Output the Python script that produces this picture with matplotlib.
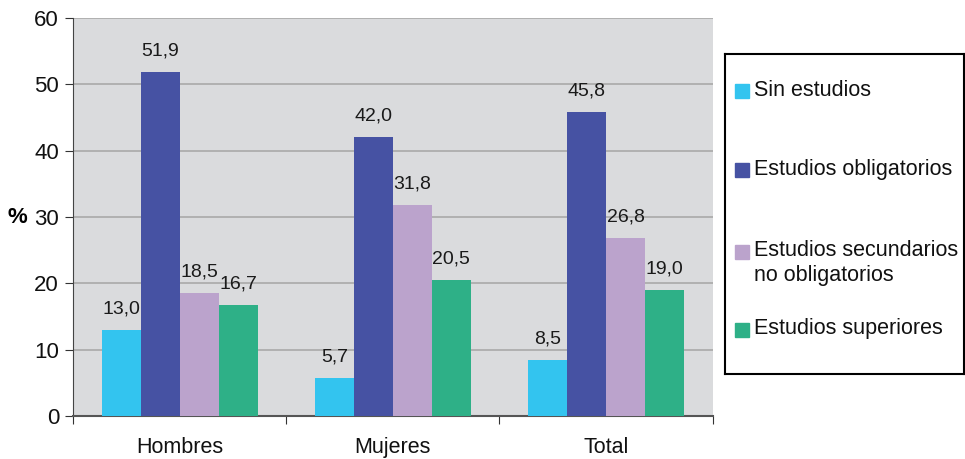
import matplotlib.pyplot as plt
import matplotlib.patches as mpatches
import numpy as np

plt.rcParams['font.family'] = ['Liberation Sans', 'DejaVu Sans']

groups = ["Hombres", "Mujeres", "Total"]
series = ["Sin estudios", "Estudios obligatorios",
          "Estudios secundarios\nno obligatorios", "Estudios superiores"]
sin_estudios = [13.0, 5.7, 8.5]
obligatorios = [51.9, 42.0, 45.8]
secundarios = [18.5, 31.8, 26.8]
superiores = [16.7, 20.5, 19.0]
colors = ["#33c4ef", "#4652a3", "#bba3cc", "#2eb087"]

values = [sin_estudios, obligatorios, secundarios, superiores]

fig = plt.figure(figsize=(9.65, 4.59), dpi=100)
ax = fig.add_axes([0.0756, 0.0937, 0.663, 0.867])
ax.set_facecolor("#dadbdd")

x = np.arange(len(groups))
w = 0.183
for i, vals in enumerate(values):
    pos = x + (i - 1.5) * w
    ax.bar(pos, vals, w, color=colors[i], zorder=3)
    for p, v in zip(pos, vals):
        ax.text(p, v + 2.5, f"{v:.1f}".replace(".", ","), ha="center", va="baseline",
                fontsize=14, color="#1a1a1a")

ax.set_xlim(-0.5, 2.5)
ax.set_ylim(0, 60)
ax.set_yticks(range(0, 61, 10))
ax.yaxis.grid(True, color="#a9a9a9", linewidth=1.2, zorder=0)
ax.set_xticks([-0.5, 0.5, 1.5, 2.5])
ax.set_xticklabels([])
ax.set_xticks(x, minor=True)
ax.set_xticklabels(groups, minor=True, fontsize=15.5, color="#111111")
ax.tick_params(axis="x", which="minor", length=0, pad=15)
ax.tick_params(axis="x", which="major", length=6, color="#333333", direction="out")
ax.tick_params(axis="y", labelsize=16, length=6, color="#333333", pad=4, labelcolor="#111111")
for s in ["top", "right"]:
    ax.spines[s].set_visible(False)
ax.spines["left"].set_color("#444444")
ax.spines["bottom"].set_color("#555555")
ax.spines["bottom"].set_linewidth(1.5)

fig.text(0.008, 0.527, "%", fontsize=16, fontweight="bold", va="center")

# legend box
lax = fig.add_axes([0.751, 0.185, 0.248, 0.697])
lax.set_xlim(0, 239)
lax.set_ylim(320, 0)
lax.set_xticks([])
lax.set_yticks([])
for s in lax.spines.values():
    s.set_linewidth(1.5)
sq = [37, 116, 197.5, 275.5]
for i, lab in enumerate(series):
    lax.add_patch(mpatches.Rectangle((10, sq[i] - 7), 14, 14, color=colors[i]))
    for k, line in enumerate(lab.split("\n")):
        lax.text(29, sq[i] + 4.5 + 25 * k, line, fontsize=15.5, va="baseline", ha="left",
                 color="#111111")

fig.savefig("out.png", dpi=100)
